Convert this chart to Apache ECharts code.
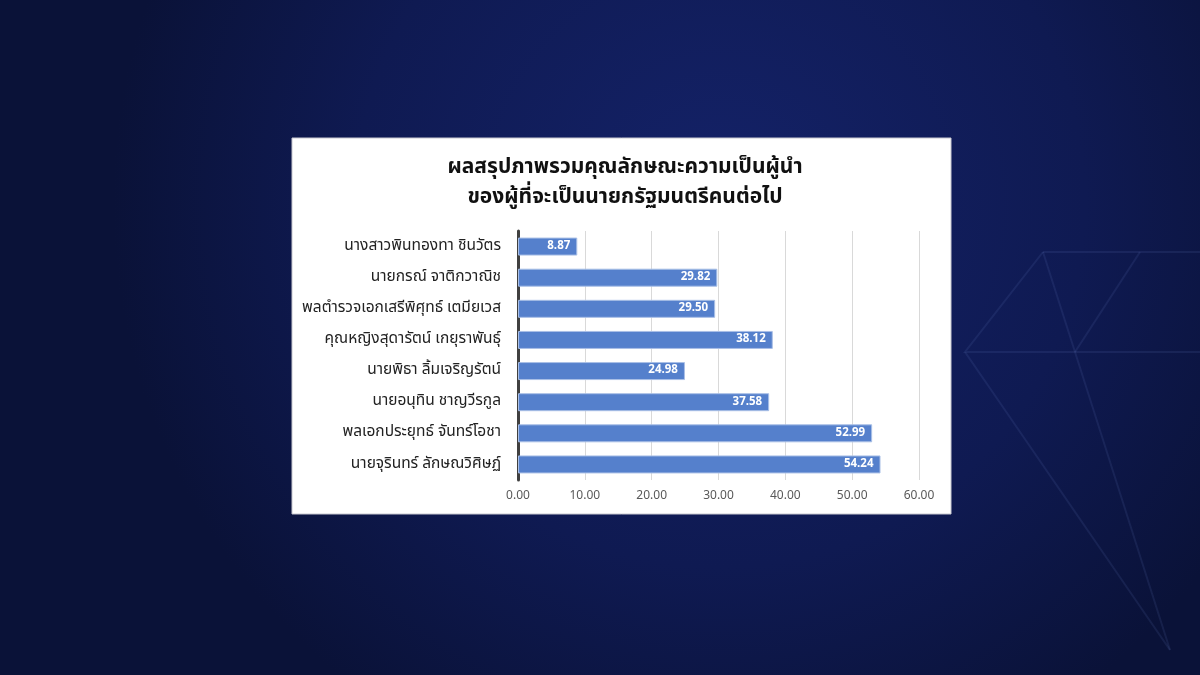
<!DOCTYPE html>
<html><head><meta charset="utf-8">
<script src="https://cdn.jsdelivr.net/npm/echarts@6/dist/echarts.min.js"></script>
<style>html,body{margin:0;padding:0;}#c{width:1200px;height:675px;}</style>
</head><body><div id="c"></div>
<script>
const titleLines = ['ผลสรุปภาพรวมคุณลักษณะความเป็นผู้นำ', 'ของผู้ที่จะเป็นนายกรัฐมนตรีคนต่อไป'];
const categories = ['นางสาวพินทองทา ชินวัตร','นายกรณ์ จาติกวาณิช','พลตำรวจเอกเสรีพิศุทธ์ เตมียเวส','คุณหญิงสุดารัตน์ เกยุราพันธุ์','นายพิธา ลิ้มเจริญรัตน์','นายอนุทิน ชาญวีรกูล','พลเอกประยุทธ์ จันทร์โอชา','นายจุรินทร์ ลักษณวิศิษฏ์'];
const values = [8.87, 29.82, 29.50, 38.12, 24.98, 37.58, 52.99, 54.24];
const axisTicks = [0, 10, 20, 30, 40, 50, 60];

const chart = echarts.init(document.getElementById('c'));
const font = '"Noto Sans Thai","Leelawadee UI",Tahoma,"Noto Sans",sans-serif';
const diamond = 'rgba(110,130,200,0.13)';
chart.setOption({
  backgroundColor: {
    type: 'radial', x: 0.6, y: 0.3, r: 0.9,
    colorStops: [{offset: 0, color: '#142268'}, {offset: 0.6, color: '#0f1a52'}, {offset: 1, color: '#0a1238'}]
  },
  title: [
    {text: titleLines[0], left: 620, top: 153, textAlign: 'center', textStyle: {color: '#111111', fontSize: 21, fontWeight: 'bold', fontFamily: font}},
    {text: titleLines[1], left: 620, top: 183, textAlign: 'center', textStyle: {color: '#111111', fontSize: 21, fontWeight: 'bold', fontFamily: font}}
  ],
  graphic: [
    {type: 'polyline', silent: true, z: -2, shape: {points: [[1043,252],[1200,252]]}, style: {stroke: diamond, lineWidth: 2, fill: null}},
    {type: 'polyline', silent: true, z: -2, shape: {points: [[1043,252],[965,352],[1200,352]]}, style: {stroke: diamond, lineWidth: 2, fill: null}},
    {type: 'polyline', silent: true, z: -2, shape: {points: [[965,352],[1170,650]]}, style: {stroke: diamond, lineWidth: 2, fill: null}},
    {type: 'polyline', silent: true, z: -2, shape: {points: [[1043,252],[1075,352],[1170,650]]}, style: {stroke: diamond, lineWidth: 2, fill: null}},
    {type: 'polyline', silent: true, z: -2, shape: {points: [[1140,252],[1075,352]]}, style: {stroke: diamond, lineWidth: 2, fill: null}},
    {type: 'rect', silent: true, z: -1, shape: {x: 292, y: 138, width: 659, height: 376}, style: {fill: '#ffffff', stroke: '#c8c8d0', lineWidth: 1}}
  ],
  grid: {left: 518, right: 281, top: 231, bottom: 195, containLabel: false},
  xAxis: {
    type: 'value', min: axisTicks[0], max: axisTicks[axisTicks.length - 1], interval: 10,
    axisLine: {show: false}, axisTick: {show: false},
    splitLine: {lineStyle: {color: '#d9d9d9', width: 1}},
    axisLabel: {color: '#595959', fontSize: 12, fontFamily: font, margin: 11, formatter: v => v.toFixed(2)}
  },
  yAxis: {
    type: 'category', data: categories, inverse: true,
    axisLine: {lineStyle: {color: '#404040', width: 3}}, axisTick: {show: false},
    axisLabel: {color: '#222222', fontSize: 15.5, fontFamily: font, margin: 17}
  },
  series: [{
    type: 'bar', data: values, barWidth: 18,
    itemStyle: {color: '#5580cc', borderColor: '#a9bfe6', borderWidth: 1},
    label: {show: true, position: 'insideRight', color: '#ffffff', fontSize: 11.5, fontWeight: 'bold', fontFamily: font, formatter: p => p.value.toFixed(2), offset: [-2, 0]}
  }]
});
</script></body></html>
